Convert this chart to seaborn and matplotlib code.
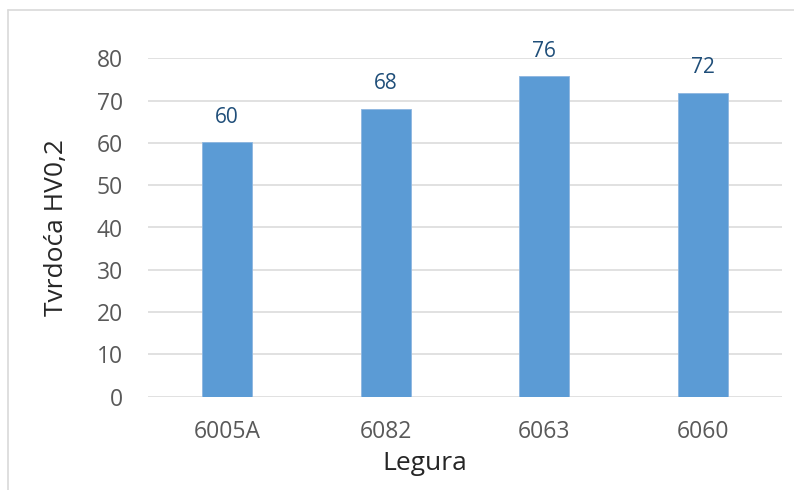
import matplotlib
matplotlib.use("Agg")
import matplotlib.pyplot as plt
from matplotlib.lines import Line2D
import seaborn as sns
import pandas as pd

categories = ["6005A", "6082", "6063", "6060"]
values = [60.1, 68.1, 75.7, 71.9]
labels = ["60", "68", "76", "72"]
yticks = [0, 10, 20, 30, 40, 50, 60, 70, 80]

sns.set_theme(style="white")
plt.rcParams['font.family'] = ['Open Sans', 'DejaVu Sans']

df = pd.DataFrame({"Legura": categories, "HV": values})

fig = plt.figure(figsize=(7.94, 4.90), dpi=100)
ax = fig.add_axes([148/794, 1-396.7/490, (782-148)/794, (396.7-58.3)/490])

sns.barplot(data=df, x="Legura", y="HV", ax=ax, color="#5B9BD5", width=0.315,
            saturation=1, edgecolor="#8DB6E0", linewidth=0.6, zorder=3)

ax.set_ylim(0, 80)
ax.set_yticks(yticks)
ax.set_xlim(-0.5, len(categories) - 0.5)
ax.grid(axis="y", color="#D9D9D9", linewidth=1.1, zorder=0)
ax.set_axisbelow(True)
for s in ["top", "right", "left", "bottom"]:
    ax.spines[s].set_visible(False)

ax.tick_params(axis="y", length=0, pad=18, labelsize=16.5, labelcolor="#595959")
ax.tick_params(axis="x", length=0, pad=17, labelsize=16.5, labelcolor="#595959")

ax.set_ylabel("Tvrdoća HV0,2", fontsize=19, color="#262626")
ax.set_xlabel("Legura", fontsize=19, color="#262626")
ax.yaxis.set_label_coords((57-148)/634, 0.5)
ax.xaxis.set_label_coords((425-148)/634, -(464-396.7)/338.4)
ax.xaxis.label.set_va("center")
ax.yaxis.label.set_va("center")

for i, (v, lab) in enumerate(zip(values, labels)):
    ax.annotate(lab, (i, v), xytext=(0, 18), textcoords="offset points",
                ha="center", va="center", fontsize=15, color="#1F4E79")

# outer chart border (left and top visible)
fig.add_artist(Line2D([8/794, 8/794], [0, 1-10/490], color="#D9D9D9", lw=1.2,
                      transform=fig.transFigure))
fig.add_artist(Line2D([8/794, 1], [1-10/490, 1-10/490], color="#D9D9D9", lw=1.2,
                      transform=fig.transFigure))

fig.savefig("out.png", dpi=100)
